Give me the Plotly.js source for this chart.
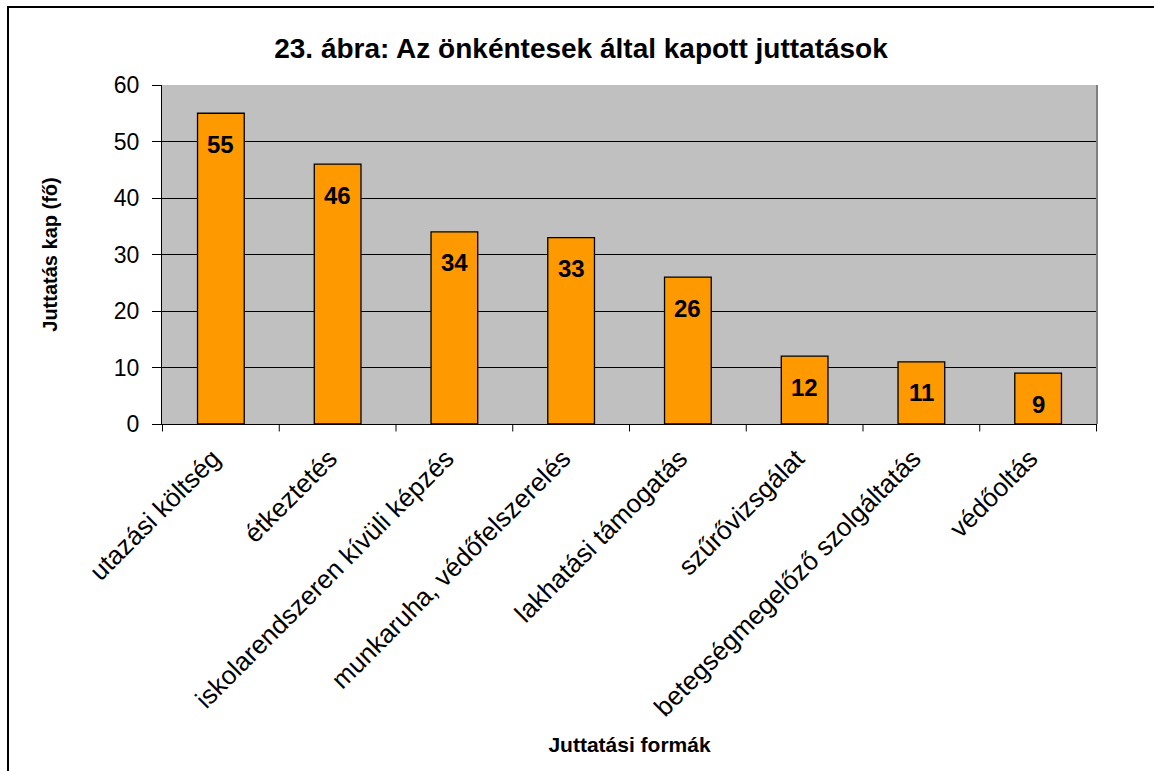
<!DOCTYPE html>
<html>
<head>
<meta charset="utf-8">
<script src="https://cdn.plot.ly/plotly-3.0.1.min.js"></script>
<style>
html, body { margin: 0; padding: 0; overflow: hidden; background: #fff; }
#chart { width: 1154px; height: 771px; }
#frame { position: absolute; left: 7px; top: 6px; width: 1300px; height: 900px; border: 2px solid #000; pointer-events: none; }
</style>
</head>
<body>
<div id="chart"></div>
<div id="frame"></div>
<script>
const categories = ["utazási költség", "étkeztetés", "iskolarendszeren kívüli képzés", "munkaruha, védőfelszerelés", "lakhatási támogatás", "szűrővizsgálat", "betegségmegelőző szolgáltatás", "védőoltás"];
const values = [55, 46, 34, 33, 26, 12, 11, 9];
const yTicks = [0, 10, 20, 30, 40, 50, 60];

const FONT = "Liberation Sans, Arial, sans-serif";

const trace = {
  type: "bar",
  x: categories,
  y: values,
  width: 0.4,
  marker: { color: "#FF9900", line: { color: "#000000", width: 1.3 } },
  hoverinfo: "x+y"
};

const labelAnnotations = categories.map((c, i) => ({
  x: c, y: values[i], xref: "x", yref: "y",
  text: "<b>" + values[i] + "</b>",
  showarrow: false, yshift: -31,
  font: { family: FONT, size: 24, color: "#000" }
}));

const boundaryTicks = categories.map((c, i) => i - 0.5).concat([categories.length - 0.5]).map(v => ({
  type: "line", xref: "x", yref: "paper", x0: v, x1: v, y0: 0, y1: -0.022,
  line: { color: "#000", width: 1 }
}));

const layout = {
  width: 1154, height: 771,
  margin: { l: 162, r: 57, t: 85, b: 347 },
  paper_bgcolor: "#ffffff",
  plot_bgcolor: "#C0C0C0",
  showlegend: false,
  title: {
    text: "<b>23. ábra: Az önkéntesek által kapott juttatások</b>",
    font: { family: FONT, size: 28, color: "#000" },
    xref: "container", yref: "container",
    x: 581 / 1154, y: 1 - 48 / 771, xanchor: "center", yanchor: "middle"
  },
  xaxis: {
    type: "category",
    tickangle: -45,
    tickfont: { family: FONT, size: 26, color: "#000" },
    showline: true, linecolor: "#000", linewidth: 1,
    showgrid: false,
    ticks: "outside", ticklen: 0,
    ticklabelstandoff: 8,
    ticklabelshift: -8,
    title: { text: "<b>Juttatási formák</b>", font: { family: FONT, size: 21, color: "#000" }, standoff: 16 }
  },
  yaxis: {
    range: [0, 60],
    tickvals: yTicks,
    tickfont: { family: FONT, size: 23, color: "#000" },
    showline: true, linecolor: "#000", linewidth: 1,
    showgrid: true, gridcolor: "#000", gridwidth: 1,
    zeroline: false,
    ticks: "outside", ticklen: 9, tickcolor: "#000",
    ticklabelstandoff: 8,
    title: { text: "<b>Juttatás kap (fő)</b>", font: { family: FONT, size: 20, color: "#000" }, standoff: 50 }
  },
  shapes: [
    { type: "line", xref: "paper", yref: "paper", x0: 1, x1: 1, y0: 0, y1: 1, line: { color: "#808080", width: 2 } }
  ].concat(boundaryTicks),
  annotations: labelAnnotations
};

Plotly.newPlot("chart", [trace], layout, { displayModeBar: false, staticPlot: true });
</script>
</body>
</html>
